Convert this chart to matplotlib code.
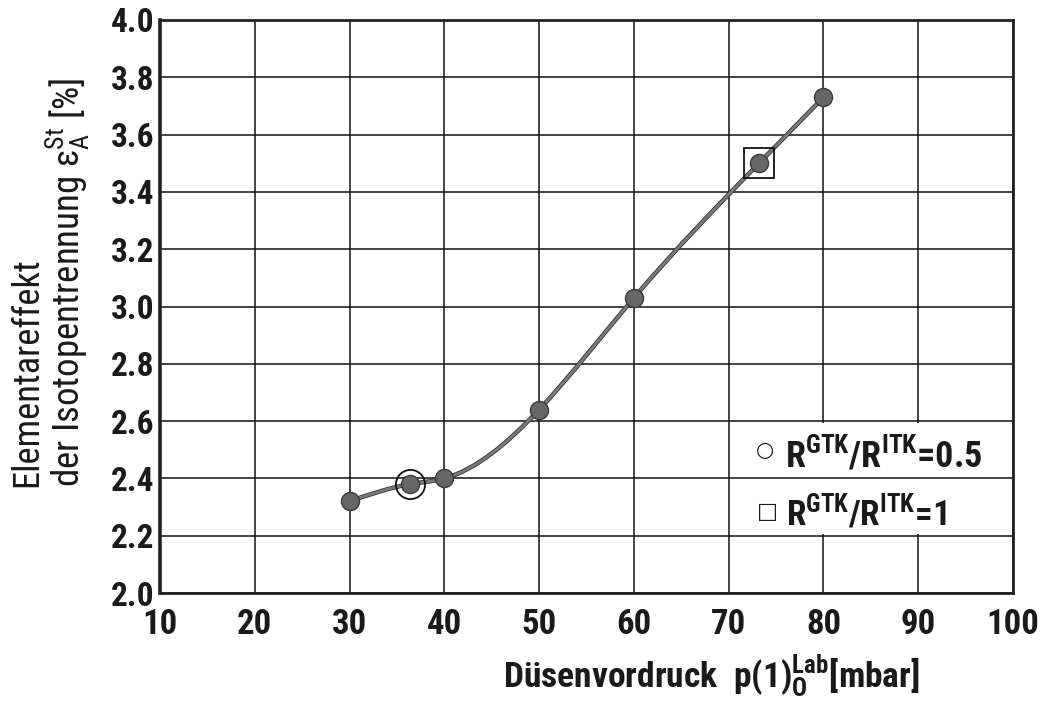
import numpy as np
import matplotlib
matplotlib.use("Agg")
import matplotlib.pyplot as plt
from matplotlib import font_manager
from matplotlib.path import Path
from matplotlib.patches import PathPatch, Rectangle
import matplotlib.patheffects as pe

# measured separation effect vs. nozzle pressure
pressure = [30, 36.4, 40, 50, 60, 73.2, 80]
effect = [2.32, 2.38, 2.40, 2.64, 3.03, 3.50, 3.73]

# runs with R_GTK/R_ITK = 0.5 (circle) and = 1 (square)
p_half = [36.4]
e_half = [2.38]
p_one = [73.2]
e_one = [3.50]

xticks = list(range(10, 101, 10))
yticks = [2.0, 2.2, 2.4, 2.6, 2.8, 3.0, 3.2, 3.4, 3.6, 3.8, 4.0]


def pick_narrow_font():
    entries = font_manager.fontManager.ttflist
    names = {f.name for f in entries}
    for name in ["Liberation Sans Narrow", "Roboto Condensed", "Open Sans Condensed",
                 "Noto Sans Condensed", "DejaVu Sans Condensed"]:
        if name in names:
            return name, "normal"
    for fam in ["DejaVu Sans", "Noto Sans", "Open Sans", "Roboto", "Liberation Sans"]:
        for f in entries:
            if f.name == fam and str(f.stretch) in ("condensed", "semi-condensed",
                                                    "extra-condensed"):
                return fam, str(f.stretch)
    return "DejaVu Sans", "normal"


narrow, stretch = pick_narrow_font()
plt.rcParams["font.family"] = [narrow, "DejaVu Sans"]
plt.rcParams["font.stretch"] = stretch
plt.rcParams["mathtext.fontset"] = "custom"
plt.rcParams["mathtext.rm"] = narrow
plt.rcParams["mathtext.bf"] = narrow + ":bold"
plt.rcParams["mathtext.it"] = narrow + ":italic"

W, H = 1043, 702
fig = plt.figure(figsize=(W / 100, H / 100), dpi=100)
ax = fig.add_axes([160 / W, 1 - 593 / H, (1013 - 160) / W, (593 - 20) / H])

ax.set_xlim(10, 100)
ax.set_ylim(2.0, 4.0)
ax.set_xticks(xticks)
ax.set_yticks(yticks)
ax.set_xticklabels([str(t) for t in xticks], fontsize=25, fontweight="bold")
ax.set_yticklabels(["%.1f" % t for t in yticks], fontsize=24, fontweight="bold")
ax.tick_params(axis="both", length=0, colors="#1a1a1a")
ax.tick_params(axis="x", pad=11)
ax.tick_params(axis="y", pad=4)
ax.grid(True, color="#111111", linewidth=1.1)
ax.set_axisbelow(True)
for s in ax.spines.values():
    s.set_linewidth(2.0)
    s.set_color("#222222")
ax.spines["left"].set_linewidth(2.6)

# white panel for the key, with the 2.4 line running through it
ax.add_patch(Rectangle((70.15, 2.205), 29.7, 0.39, facecolor="white",
                       edgecolor="none", zorder=1))
ax.hlines(2.4, 70, 100, color="#111111", linewidth=1.1, zorder=1.5)

# natural cubic spline through the measured points, drawn as Bezier segments
x = np.array(pressure, dtype=float)
y = np.array(effect, dtype=float)
n = len(x)
h = np.diff(x)
A = np.zeros((n, n))
b = np.zeros(n)
A[0, 0] = A[-1, -1] = 1.0
for i in range(1, n - 1):
    A[i, i - 1] = h[i - 1]
    A[i, i] = 2 * (h[i - 1] + h[i])
    A[i, i + 1] = h[i]
    b[i] = 6 * ((y[i + 1] - y[i]) / h[i] - (y[i] - y[i - 1]) / h[i - 1])
M = np.linalg.solve(A, b)
slope = np.empty(n)
slope[:-1] = (y[1:] - y[:-1]) / h - h * (2 * M[:-1] + M[1:]) / 6
slope[-1] = (y[-1] - y[-2]) / h[-1] + h[-1] * (M[-2] + 2 * M[-1]) / 6

verts = [(x[0], y[0])]
codes = [Path.MOVETO]
for i in range(n - 1):
    verts += [(x[i] + h[i] / 3, y[i] + slope[i] * h[i] / 3),
              (x[i + 1] - h[i] / 3, y[i + 1] - slope[i + 1] * h[i] / 3),
              (x[i + 1], y[i + 1])]
    codes += [Path.CURVE4] * 3
curve = PathPatch(Path(verts, codes), facecolor="none", edgecolor="#7a7a7a",
                  linewidth=2.0, zorder=3)
curve.set_path_effects([pe.Stroke(linewidth=3.2, foreground="#333333"), pe.Normal()])
ax.add_patch(curve)

ax.plot(pressure, effect, "o", markersize=13, markerfacecolor="#666666",
        markeredgecolor="#3a3a3a", markeredgewidth=1.0, zorder=4)
ax.plot(p_half, e_half, "o", markersize=21, markerfacecolor="none",
        markeredgecolor="#111111", markeredgewidth=1.3, zorder=5)
ax.plot(p_one, e_one, "s", markersize=21, markerfacecolor="none",
        markeredgecolor="#111111", markeredgewidth=1.3, zorder=5)

# key
ax.text(73.85, 2.50, "○", fontsize=15, family="DejaVu Sans", ha="center",
        va="center", zorder=6, color="#1a1a1a")
ax.text(74.05, 2.283, "□", fontsize=16, family="DejaVu Sans", ha="center",
        va="center", zorder=6, color="#1a1a1a")
key1 = ax.text(75.9, 2.44, r"R$^{\mathbf{GTK}}$/R$^{\mathbf{ITK}}$=0.5", fontsize=26,
               fontweight="bold", ha="left", va="baseline", zorder=6, color="#1a1a1a")
key2 = ax.text(76.1, 2.237, r"R$^{\mathbf{GTK}}$/R$^{\mathbf{ITK}}$=1", fontsize=26,
               fontweight="bold", ha="left", va="baseline", zorder=6, color="#1a1a1a")

# axis titles
xlab = fig.text(711 / W, 1 - 688 / H,
                r"Düsenvordruck  p(1)$_{\mathbf{O}}^{\mathbf{Lab}}$[mbar]",
                fontsize=25, fontweight="bold", ha="center", va="baseline",
                color="#1a1a1a")
ylab1 = fig.text(37 / W, 1 - 487 / H, "Elementareffekt", fontsize=26, rotation=90,
                 rotation_mode="anchor", ha="left", va="baseline", color="#1a1a1a")
ylab2 = fig.text(79 / W, 1 - 487 / H,
                 r"der Isotopentrennung ε$_{\mathrm{A}}^{\mathrm{St}}$ [%]",
                 fontsize=26, rotation=90, rotation_mode="anchor", ha="left",
                 va="baseline", color="#1a1a1a")

# size the long labels to their space
fig.canvas.draw()
renderer = fig.canvas.get_renderer()
for txt, length, vertical in [(xlab, 417, False), (ylab1, 230, True),
                              (ylab2, 410, True), (key1, 198, False),
                              (key2, 161, False)]:
    bb = txt.get_window_extent(renderer)
    size = bb.height if vertical else bb.width
    scale = min(max(length / size, 0.8), 1.1)
    txt.set_fontsize(txt.get_fontsize() * scale)

fig.savefig("out.png", dpi=100)
